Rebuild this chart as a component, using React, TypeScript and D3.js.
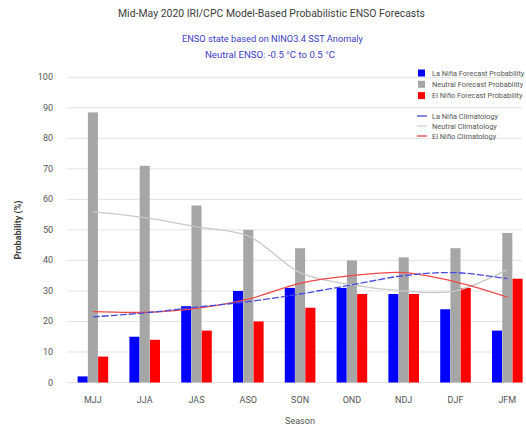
import React from "react";
import * as d3 from "d3";

const seasons = ["MJJ", "JJA", "JAS", "ASO", "SON", "OND", "NDJ", "DJF", "JFM"];
const laNinaProb = [2, 15, 25, 30, 31, 31, 29, 24, 17];
const neutralProb = [88.5, 71, 58, 50, 44, 40, 41, 44, 49];
const elNinoProb = [8.5, 14, 17, 20, 24.5, 29, 29, 31, 34];
const laNinaClim = [21.5, 22.8, 24.7, 26.5, 29, 32, 35, 36, 34];
const neutralClim = [56, 54, 51, 48, 36, 32, 30, 30, 37];
const elNinoClim = [23.2, 23, 24.3, 27.3, 32.5, 35, 36, 33, 28];
const yTicks = [0, 10, 20, 30, 40, 50, 60, 70, 80, 90, 100];

const seriesKeys = ["laNina", "neutral", "elNino"];
const barColors: Record<string, string> = { laNina: "#0000ff", neutral: "#a6a6a6", elNino: "#ff0000" };

const legendBars = [
  { label: "La Niña Forecast Probability", color: "#0000ff" },
  { label: "Neutral Forecast Probability", color: "#a6a6a6" },
  { label: "El Niño Forecast Probability", color: "#ff0000" },
];
const legendLines = [
  { label: "La Niña Climatology", color: "#4a4ae0" },
  { label: "Neutral Climatology", color: "#cfcfcf" },
  { label: "El Niño Climatology", color: "#f04a4a" },
];

const FONT = "'Liberation Sans Narrow', 'Roboto', 'Liberation Sans', sans-serif";

export default function App() {
  const width = 526;
  const height = 430;
  const x = d3.scaleBand().domain(seasons).range([67, 67 + 9 * 51.8]).paddingInner(0).paddingOuter(0);
  const y = d3.scaleLinear().domain([0, 100]).range([382.5, 77.3]);
  const sub = d3.scaleBand().domain(seriesKeys).range([-15.5, 15.5]).padding(0.02);

  const data: Record<string, number[]> = { laNina: laNinaProb, neutral: neutralProb, elNino: elNinoProb };
  const cx = (s: string) => (x(s) as number) + x.bandwidth() / 2;

  const line = d3
    .line<number>()
    .x((_, i) => cx(seasons[i]))
    .y((d) => y(d))
    .curve(d3.curveCatmullRom.alpha(0.5));

  return (
    <svg width={width} height={height} style={{ position: "absolute", left: 0, top: 0, background: "#fff" }}>
      <rect width={width} height={height} fill="#fff" />
      <text x={118} y={17} textLength={307} lengthAdjust="spacingAndGlyphs" fontFamily={FONT} fontSize={10.2} fill="#404040">
        Mid-May 2020 IRI/CPC Model-Based Probabilistic ENSO Forecasts
      </text>
      <text x={182} y={42} textLength={181} lengthAdjust="spacingAndGlyphs" fontFamily={FONT} fontSize={9} fill="#3c3cc8">
        ENSO state based on NINO3.4 SST Anomaly
      </text>
      <text x={205} y={58} textLength={130} lengthAdjust="spacingAndGlyphs" fontFamily={FONT} fontSize={9} fill="#3c3cc8">
        Neutral ENSO: -0.5 °C to 0.5 °C
      </text>

      {yTicks.map((t) => (
        <g key={t}>
          <line x1={67} x2={522} y1={y(t)} y2={y(t)} stroke="#e3e3e3" strokeWidth={1} />
          <text x={53} y={y(t) + 3} textAnchor="end" fontFamily={FONT} fontSize={9} fill="#555">
            {t}
          </text>
        </g>
      ))}

      {seasons.map((s, i) => (
        <g key={s}>
          {seriesKeys.map((k) => (
            <rect
              key={k}
              x={cx(s) + (sub(k) as number)}
              width={sub.bandwidth()}
              y={y(data[k][i])}
              height={y(0) - y(data[k][i])}
              fill={barColors[k]}
            />
          ))}
          <text x={cx(s)} y={403} textAnchor="middle" fontFamily={FONT} fontSize={9} fill="#555">
            {s}
          </text>
        </g>
      ))}

      <path d={line(neutralClim) || ""} fill="none" stroke="#c8c8c8" strokeWidth={1.3} />
      <path d={line(elNinoClim) || ""} fill="none" stroke="#f04a4a" strokeWidth={1.3} />
      <path d={line(laNinaClim) || ""} fill="none" stroke="#4a4ae0" strokeWidth={1.3} strokeDasharray="7 2" />

      <text x={300} y={424} textAnchor="middle" fontFamily={FONT} fontSize={9} fill="#555">
        Season
      </text>
      <text
        transform={`translate(21,230) rotate(-90)`}
        textAnchor="middle"
        fontFamily={FONT}
        fontSize={9}
        fontWeight="bold"
        fill="#404040"
      >
        Probability (%)
      </text>

      {legendBars.map((l, i) => (
        <g key={l.label}>
          <rect x={418} y={69.5 + i * 11.3} width={7} height={7} fill={l.color} />
          <text x={432} y={75.5 + i * 11.3} fontFamily={FONT} fontSize={7.4} fill="#555">
            {l.label}
          </text>
        </g>
      ))}
      {legendLines.map((l, i) => (
        <g key={l.label}>
          <line x1={417} x2={427} y1={116 + i * 10} y2={116 + i * 10} stroke={l.color} strokeWidth={1.3} />
          <text x={432} y={118.5 + i * 10} fontFamily={FONT} fontSize={7.4} fill="#555">
            {l.label}
          </text>
        </g>
      ))}
    </svg>
  );
}
